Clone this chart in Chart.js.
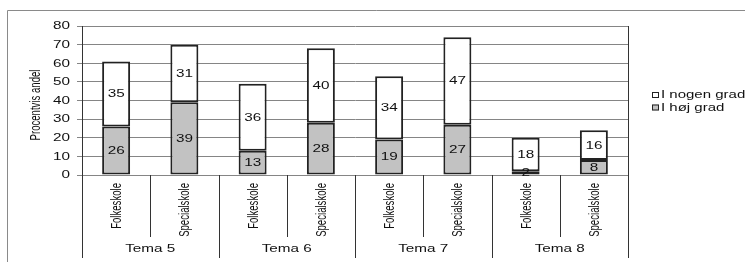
<!DOCTYPE html>
<html><head><meta charset="utf-8">
<script src="https://cdn.jsdelivr.net/npm/chart.js@4.4.1/dist/chart.umd.min.js"></script>
<style>html,body{margin:0;padding:0;background:#fff;}canvas{display:block;}</style>
</head><body>
<canvas id="c" width="750" height="262"></canvas>
<script>
const categories = ['Folkeskole','Specialskole','Folkeskole','Specialskole','Folkeskole','Specialskole','Folkeskole','Specialskole'];
const groups = ['Tema 5','Tema 6','Tema 7','Tema 8'];
const hojGrad = [26, 39, 13, 28, 19, 27, 2, 8];
const nogenGrad = [35, 31, 36, 40, 34, 47, 18, 16];
const seriesNames = ['I høj grad', 'I nogen grad'];
const yTicks = [0, 10, 20, 30, 40, 50, 60, 70, 80];
const yTitle = 'Procentvis andel';

const FONT = '"Liberation Sans", Arial, sans-serif';
const SX = 1.5;
const GREY = '#c2c2c2';
const EDGE = '#222222';

function wideText(ctx, text, x, y, size, align, baseline, rotate, color) {
  ctx.save();
  ctx.translate(x, y);
  ctx.scale(SX, 1);
  if (rotate) ctx.rotate(-Math.PI / 2);
  ctx.font = size + 'px ' + FONT;
  ctx.textAlign = align;
  ctx.textBaseline = baseline;
  ctx.fillStyle = color || '#111111';
  ctx.fillText(text, 0, 0);
  ctx.restore();
}

const decor = {
  id: 'decor',
  afterDatasetsDraw(chart) {
    const ctx = chart.ctx;
    chart.data.datasets.forEach((ds, di) => {
      const meta = chart.getDatasetMeta(di);
      meta.data.forEach((bar, i) => {
        const v = ds.data[i];
        const cy = (bar.y + bar.base) / 2;
        wideText(ctx, String(v), bar.x, cy + 0.5, 10.2, 'center', 'middle', false);
      });
    });
  },
  afterDraw(chart) {
    const ctx = chart.ctx;
    const a = chart.chartArea;
    const x = chart.scales.x, y = chart.scales.y;
    ctx.save();
    // outer frame
    ctx.strokeStyle = '#8a8a8a';
    ctx.lineWidth = 1;
    ctx.beginPath();
    ctx.moveTo(7.5, 262); ctx.lineTo(7.5, 10.5); ctx.lineTo(745, 10.5);
    ctx.stroke();
    // category dividers below axis
    const n = categories.length;
    const slot = x.getPixelForValue(1) - x.getPixelForValue(0);
    ctx.strokeStyle = '#333333';
    for (let i = 0; i <= n; i++) {
      const bx = Math.round(i === n ? a.right : x.getPixelForValue(i) - slot / 2) + 0.5;
      ctx.beginPath();
      if (i === n) { ctx.moveTo(bx, a.top); }
      else { ctx.moveTo(bx, a.bottom); }
      ctx.lineTo(bx, i % 2 === 0 ? 258 : 237);
      ctx.stroke();
    }
    ctx.restore();
    // rotated category labels
    categories.forEach((c, i) => {
      wideText(ctx, c, x.getPixelForValue(i) + 1, a.bottom + 8, 9.6, 'right', 'middle', true);
    });
    // group labels
    groups.forEach((g, gi) => {
      const cx = (x.getPixelForValue(gi * 2) + x.getPixelForValue(gi * 2 + 1)) / 2;
      wideText(ctx, g, cx, 249, 10.2, 'center', 'middle', false);
    });
    // y tick labels
    yTicks.forEach(v => {
      wideText(ctx, String(v), 70, y.getPixelForValue(v) + 0.5, 10.2, 'right', 'middle', false);
    });
    // y title
    wideText(ctx, yTitle, 36, 105, 9.6, 'center', 'middle', true);
    // legend
    const items = [{ t: seriesNames[1], c: '#ffffff' }, { t: seriesNames[0], c: GREY }];
    items.forEach((it, k) => {
      const ly = 95 + k * 12.5;
      ctx.save();
      ctx.fillStyle = it.c;
      ctx.strokeStyle = EDGE;
      ctx.lineWidth = 1;
      ctx.fillRect(652, ly - 3, 7, 6);
      ctx.strokeRect(652.5, ly - 2.5, 6, 5);
      ctx.restore();
      wideText(ctx, it.t, 661, ly + 0.5, 10, 'left', 'middle', false);
    });
  }
};

new Chart(document.getElementById('c'), {
  type: 'bar',
  data: {
    labels: categories,
    datasets: [
      { label: seriesNames[0], data: hojGrad, backgroundColor: GREY, borderColor: EDGE, borderWidth: 2, borderSkipped: false, barPercentage: 0.41, categoryPercentage: 1 },
      { label: seriesNames[1], data: nogenGrad, backgroundColor: '#ffffff', borderColor: EDGE, borderWidth: 2, borderSkipped: false, barPercentage: 0.41, categoryPercentage: 1 }
    ]
  },
  options: {
    responsive: false,
    animation: false,
    devicePixelRatio: 1,
    layout: { padding: { top: 26, right: 122, bottom: 0, left: 0 } },
    plugins: { legend: { display: false }, tooltip: { enabled: false } },
    scales: {
      x: {
        stacked: true,
        grid: { display: false },
        border: { display: false },
        ticks: { display: false },
        afterFit(s) { s.height = 87; }
      },
      y: {
        stacked: true,
        min: 0, max: 80,
        ticks: { display: false, stepSize: 10 },
        grid: { color: '#858585', lineWidth: 1, tickLength: 5, drawTicks: true },
        border: { display: true, color: '#333333', width: 1 },
        afterFit(s) { s.width = 82; }
      }
    }
  },
  plugins: [decor]
});
</script>
</body></html>
